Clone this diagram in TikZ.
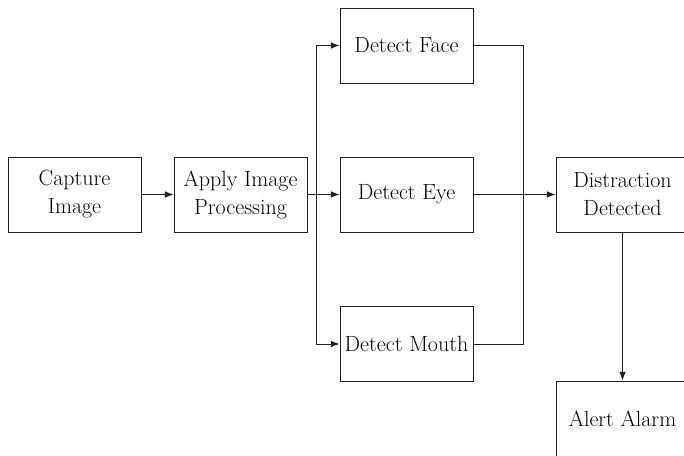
\documentclass[tikz,border=0pt]{standalone}
\usetikzlibrary{arrows.meta}
\definecolor{linegray}{rgb}{0.12, 0.12, 0.12}
\tikzset{
  stepbox/.style={draw=linegray, line width=0.75pt, minimum width=99.75pt, minimum height=56.25pt, align=center, text=black, font=\fontsize{16.5}{21}\selectfont},
  arr/.style={draw=linegray, line width=0.75pt, -{Latex[length=6.5pt,width=5pt]}},
  wire/.style={draw=linegray, line width=0.75pt}
}

\begin{document}
\begin{tikzpicture}[x=0.75pt, y=-0.75pt]
\clip (0,0) rectangle (684,455);
\fill[white] (0,0) rectangle (684,455);
\node[stepbox] (capture) at (74.5,194.5) {Capture\\Image};
\node[stepbox] (apply) at (240.5,194.5) {Apply Image\\Processing};
\node[stepbox] (face) at (406.5,45.5) {Detect Face};
\node[stepbox] (eye) at (406.5,194.5) {Detect Eye};
\node[stepbox] (mouth) at (406.5,344) {Detect Mouth};
\node[stepbox] (distraction) at (622.5,194.5) {Distraction\\Detected};
\node[stepbox] (alarm) at (622.5,418.5) {Alert Alarm};
\coordinate (split) at (316,194.5);
\coordinate (join) at (523,194.5);
\draw[arr] (capture) -- (apply);
\draw[arr] (apply) -- (eye);
\draw[arr] (split) |- (face);
\draw[arr] (split) |- (mouth);
\draw[wire] (face) -| (join) |- (mouth);
\draw[arr] (eye) -- (distraction);
\draw[arr] (distraction) -- (alarm);
\end{tikzpicture}
\end{document}
